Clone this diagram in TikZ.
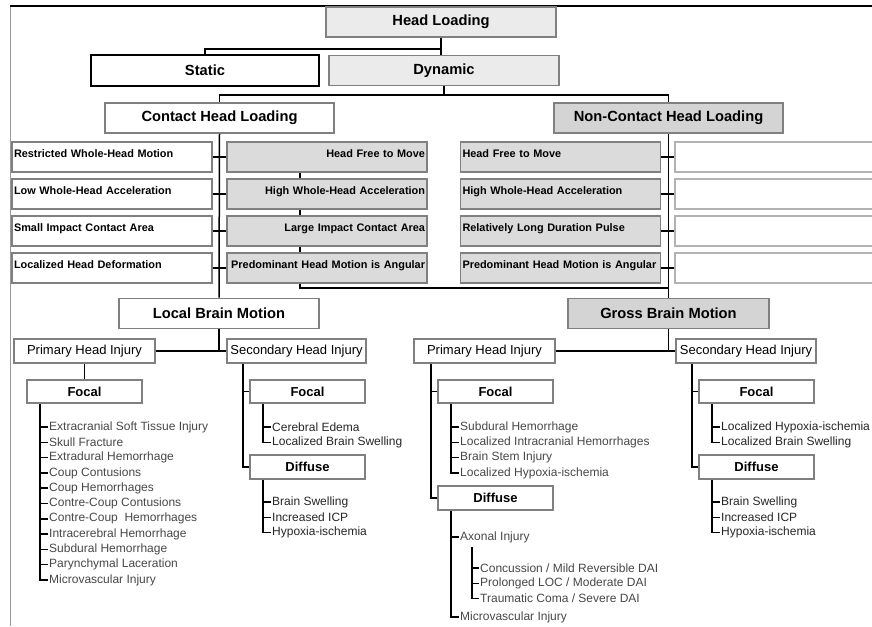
\documentclass[tikz,border=0pt]{standalone}
\usepackage{fontspec}
\setmainfont{Liberation Sans}
\usetikzlibrary{positioning}
\colorlet{lightc}{black!8}
\colorlet{fillc}{black!14}
\colorlet{darkc}{black!17}
\colorlet{edgec}{black!50}
\colorlet{itemc}{black!72}
\tikzstyle{box} = [draw=edgec, line width=1.6pt, inner sep=0pt, align=center]
\tikzstyle{headbox} = [box, minimum height=30pt,
  font=\fontsize{14.7}{17}\selectfont\bfseries]
\tikzstyle{rowbox} = [box, inner xsep=2pt, text width=196pt, minimum height=30pt,
  text height=8pt, text depth=7pt, font=\fontsize{10.9}{13}\selectfont\bfseries]
\tikzstyle{injury} = [box, minimum width=141pt, minimum height=24pt,
  font=\fontsize{13}{15}\selectfont]
\tikzstyle{kind} = [box, minimum width=115pt, minimum height=23pt,
  font=\fontsize{13}{15}\selectfont\bfseries]
\tikzstyle{listitem} = [anchor=west, inner sep=1pt, text=itemc,
  font=\fontsize{12}{14}\selectfont]
\tikzstyle{link} = [line width=1.5pt, black]

\begin{document}
\begin{tikzpicture}[x=1pt, y=-1pt]
    \useasboundingbox (0,0) rectangle (872,626);
    \def\pitch{15.3}

    % Frame
    \draw[black!40, line width=0.8pt] (10,6) -- (10,626);
    \draw[line width=1.8pt] (10,6) -- (872,6);

    % Loading
    \node[headbox, fill=lightc, minimum width=230pt] (head) at (441,22) {Head Loading};
    \node[headbox, draw=black, line width=2pt, minimum width=228pt] (static) at (205,70.5) {Static};
    \node[headbox, fill=lightc, minimum width=230pt] (dynamic) at (444,70.5) {Dynamic};
    \node[headbox, minimum width=229pt] (contact) at (219.5,118) {Contact Head Loading};
    \node[headbox, fill=darkc, minimum width=229pt] (noncontact) at (668.5,118) {Non-Contact Head Loading};

    \draw[link] (head.south) -- ++(0,11) -| (static.north);
    \draw[link] (head.south) -- (head.south |- dynamic.north);
    \draw[link] (dynamic.south) -- ++(0,8.5) coordinate (split);
    \draw[link] (contact.north) |- (split) -| (noncontact.north);

    % Conditions
    \foreach \lt/\ct/\nt [count=\i] in {
        Restricted Whole-Head Motion/Head Free to Move/Head Free to Move,
        Low Whole-Head Acceleration/High Whole-Head Acceleration/High Whole-Head Acceleration,
        Small Impact Contact Area/Large Impact Contact Area/Relatively Long Duration Pulse,
        Localized Head Deformation/Predominant Head Motion is Angular/Predominant Head Motion is Angular} {
      \node[rowbox, align=left] (cl\i) at (112,120+37*\i) {\lt};
      \node[rowbox, align=right, fill=fillc] (cr\i) at (327,120+37*\i) {\ct};
      \node[rowbox, align=left, fill=fillc] (nl\i) at (560.5,120+37*\i) {\nt};
      \node[rowbox, draw=black!30] (nr\i) at (775,120+37*\i) {};
    }

    % Brain motion
    \node[headbox, minimum width=200pt] (local) at (219,313.5) {Local Brain Motion};
    \node[headbox, fill=darkc, minimum width=201pt] (gross) at (668.5,313.5) {Gross Brain Motion};

    \draw[link] (contact.south) -- (local.north);
    \draw[link] (noncontact.south) -- (gross.north);
    \foreach \i in {1,...,4} {
      \draw[link] (cl\i.east) -- (cr\i.west);
      \draw[link] (nl\i.east) -- (nr\i.west);
    }
    \foreach \i/\j in {1/2, 2/3, 3/4}
      \draw[link] ([xshift=-27pt]cr\i.south) -- ([xshift=-27pt]cr\j.north);
    \coordinate (join) at (668.5,288);
    \draw[link] ([xshift=-27pt]cr4.south) |- (join);

    % Injuries
    \node[injury] (lprim) at (84.5,351) {Primary Head Injury};
    \node[injury, minimum width=139pt] (lsec) at (296.5,351) {Secondary Head Injury};
    \node[injury] (rprim) at (484.5,351) {Primary Head Injury};
    \node[injury, minimum width=140pt] (rsec) at (746,351) {Secondary Head Injury};

    \draw[link] (local.south) -- (local.south |- lprim.east);
    \draw[link] (lprim.east) -- (lsec.west);
    \draw[link] (gross.south) -- (gross.south |- rprim.east);
    \draw[link] (rprim.east) -- (rsec.west);

    \node[kind] (lpfocal) at (84.5,391.5) {Focal};
    \node[kind] (lsfocal) at (307.5,391.5) {Focal};
    \node[kind, minimum height=24pt] (lsdiffuse) at (307.5,467) {Diffuse};
    \node[kind] (rpfocal) at (495.5,391.5) {Focal};
    \node[kind, minimum height=24pt] (rpdiffuse) at (495.5,498) {Diffuse};
    \node[kind] (rsfocal) at (756.5,391.5) {Focal};
    \node[kind, minimum height=24pt] (rsdiffuse) at (756.5,467) {Diffuse};

    \draw[link] (lprim.south) -- (lpfocal.north);
    \coordinate (lstrunk) at ([xshift=17pt]lsec.south west);
    \draw[link] (lstrunk) |- (lsdiffuse.west);
    \draw[link] (lstrunk |- lsfocal.west) -- (lsfocal.west);
    \coordinate (rptrunk) at ([xshift=18pt]rprim.south west);
    \draw[link] (rptrunk) |- (rpdiffuse.west);
    \draw[link] (rptrunk |- rpfocal.west) -- (rpfocal.west);
    \coordinate (rstrunk) at ([xshift=17pt]rsec.south west);
    \draw[link] (rstrunk) |- (rsdiffuse.west);
    \draw[link] (rstrunk |- rsfocal.west) -- (rsfocal.west);

    % Lists
    \foreach \t [count=\i] in {Extracranial Soft Tissue Injury, Skull Fracture,
        Extradural Hemorrhage, Coup Contusions, Coup Hemorrhages,
        Contre-Coup Contusions, Contre-Coup~~Hemorrhages, Intracerebral Hemorrhage,
        Subdural Hemorrhage, Parynchymal Laceration, Microvascular Injury}
      \node[listitem] (lpf\i) at (48,427-\pitch+\pitch*\i) {\t};
    \coordinate (lpflist) at ([xshift=14pt]lpfocal.south west);
    \draw[link] (lpflist) |- (lpf11.west);
    \foreach \i in {1,...,10}
      \draw[link] (lpflist |- lpf\i.west) -- (lpf\i.west);

    \foreach \t [count=\i] in {Cerebral Edema, Localized Brain Swelling}
      \node[listitem, text=black!85] (lsf\i) at (271,427-\pitch+\pitch*\i) {\t};
    \coordinate (lsflist) at ([xshift=14pt]lsfocal.south west);
    \draw[link] (lsflist) |- (lsf2.west);
    \draw[link] (lsflist |- lsf1.west) -- (lsf1.west);

    \foreach \t [count=\i] in {Brain Swelling, Increased ICP, Hypoxia-ischemia}
      \node[listitem, text=black!85] (lsd\i) at (271,502-\pitch+\pitch*\i) {\t};
    \coordinate (lsdlist) at ([xshift=14pt]lsdiffuse.south west);
    \draw[link] (lsdlist) |- (lsd3.west);
    \foreach \i in {1,2}
      \draw[link] (lsdlist |- lsd\i.west) -- (lsd\i.west);

    \foreach \t [count=\i] in {Subdural Hemorrhage, Localized Intracranial Hemorrhages,
        Brain Stem Injury, Localized Hypoxia-ischemia}
      \node[listitem] (rpf\i) at (459,427-\pitch+\pitch*\i) {\t};
    \coordinate (rpflist) at ([xshift=14pt]rpfocal.south west);
    \draw[link] (rpflist) |- (rpf4.west);
    \foreach \i in {1,...,3}
      \draw[link] (rpflist |- rpf\i.west) -- (rpf\i.west);

    \node[listitem] (axonal) at (459,537) {Axonal Injury};
    \node[listitem] (micro) at (459,617) {Microvascular Injury};
    \coordinate (rpdlist) at ([xshift=14pt]rpdiffuse.south west);
    \draw[link] (rpdlist) |- (micro.west);
    \draw[link] (rpdlist |- axonal.west) -- (axonal.west);
    \foreach \t [count=\i] in {{Concussion / Mild Reversible DAI},
        {Prolonged LOC / Moderate DAI}, {Traumatic Coma / Severe DAI}}
      \node[listitem] (dai\i) at (479,568-\pitch+\pitch*\i) {\t};
    \coordinate (dailist) at (472,547);
    \draw[link] (dailist) |- (dai3.west);
    \foreach \i in {1,2}
      \draw[link] (dailist |- dai\i.west) -- (dai\i.west);

    \foreach \t [count=\i] in {Localized Hypoxia-ischemia, Localized Brain Swelling}
      \node[listitem, text=black!85] (rsf\i) at (720,427-\pitch+\pitch*\i) {\t};
    \coordinate (rsflist) at ([xshift=14pt]rsfocal.south west);
    \draw[link] (rsflist) |- (rsf2.west);
    \draw[link] (rsflist |- rsf1.west) -- (rsf1.west);

    \foreach \t [count=\i] in {Brain Swelling, Increased ICP, Hypoxia-ischemia}
      \node[listitem, text=black!85] (rsd\i) at (720,502-\pitch+\pitch*\i) {\t};
    \coordinate (rsdlist) at ([xshift=14pt]rsdiffuse.south west);
    \draw[link] (rsdlist) |- (rsd3.west);
    \foreach \i in {1,2}
      \draw[link] (rsdlist |- rsd\i.west) -- (rsd\i.west);
\end{tikzpicture}
\end{document}
